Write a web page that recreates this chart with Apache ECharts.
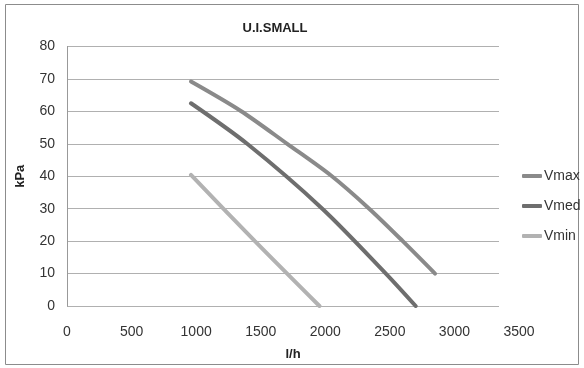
<!DOCTYPE html>
<html>
<head>
<meta charset="utf-8">
<script src="https://cdn.jsdelivr.net/npm/echarts@6/dist/echarts.min.js"></script>
<style>
  html, body { margin: 0; padding: 0; background: #fff; }
  #chart { width: 584px; height: 368px; }
</style>
</head>
<body>
<div id="chart"></div>
<script>
const seriesNames = ['Vmax', 'Vmed', 'Vmin'];

// flow (l/h), pressure (kPa)
const vmax = [[960, 69.2], [1343, 60.2], [1705, 50], [2042, 40.3], [2340, 30], [2600, 20], [2850, 10]];
const vmed = [[960, 62.5], [1395, 50], [1977, 30], [2469, 10], [2700, 0]];
const vmin = [[960, 40.4], [1455, 20], [1955, 0]];

const lineColors = ['#8a8a8a', '#6e6e6e', '#b2b2b2'];

const chart = echarts.init(document.getElementById('chart'));

const plotTop = 46.5;
const plotHeight = 259.5;
const font = 'Liberation Sans, Arial, sans-serif';

chart.setOption({
  animation: false,
  textStyle: { fontFamily: font },
  title: {
    text: 'U.I.SMALL',
    left: 270,
    top: 17,
    textAlign: 'center',
    textStyle: { fontSize: 13, fontWeight: 'bold', color: '#222' }
  },
  graphic: [{
    type: 'rect',
    shape: { x: 5.5, y: 4.5, width: 573, height: 360 },
    style: { fill: 'none', stroke: '#8c8c8c', lineWidth: 1 },
    silent: true
  }],
  legend: {
    orient: 'vertical',
    left: 517,
    top: 164,
    itemWidth: 20,
    itemHeight: 4,
    itemGap: 16,
    icon: 'roundRect',
    textStyle: { fontSize: 14, color: '#333', padding: [0, 0, 0, -3] },
    data: seriesNames
  },
  grid: [
    { left: 67, top: plotTop, width: 432, height: plotHeight },
    { left: 67, top: plotTop, width: 452, height: plotHeight }
  ],
  xAxis: [
    {
      gridIndex: 0, type: 'value', min: 0, max: 1, show: false
    },
    {
      gridIndex: 1,
      type: 'value',
      min: 0,
      max: 3500,
      interval: 500,
      name: 'l/h',
      nameLocation: 'middle',
      nameGap: 42,
      nameTextStyle: { fontSize: 13, fontWeight: 'bold', color: '#222' },
      axisLine: { show: false },
      axisTick: { show: false },
      splitLine: { show: false },
      axisLabel: { fontSize: 14, color: '#333', margin: 19, formatter: v => String(v) }
    }
  ],
  yAxis: [
    {
      gridIndex: 0,
      type: 'value',
      min: 0,
      max: 80,
      interval: 10,
      name: 'kPa',
      nameLocation: 'middle',
      nameGap: 40,
      nameTextStyle: { fontSize: 13, fontWeight: 'bold', color: '#222' },
      axisLine: { show: true, lineStyle: { color: '#999', width: 1 } },
      axisTick: { show: false },
      splitLine: { show: true, lineStyle: { color: '#b0b0b0', width: 1 } },
      axisLabel: { fontSize: 14, color: '#333', margin: 12 }
    },
    {
      gridIndex: 1, type: 'value', min: 0, max: 80, show: false
    }
  ],
  series: [vmax, vmed, vmin].map((d, i) => ({
    name: seriesNames[i],
    type: 'line',
    xAxisIndex: 1,
    yAxisIndex: 1,
    data: d,
    smooth: 0.3,
    showSymbol: false,
    color: lineColors[i],
    lineStyle: { width: 4, cap: 'round', color: lineColors[i] }
  }))
});
</script>
</body>
</html>
